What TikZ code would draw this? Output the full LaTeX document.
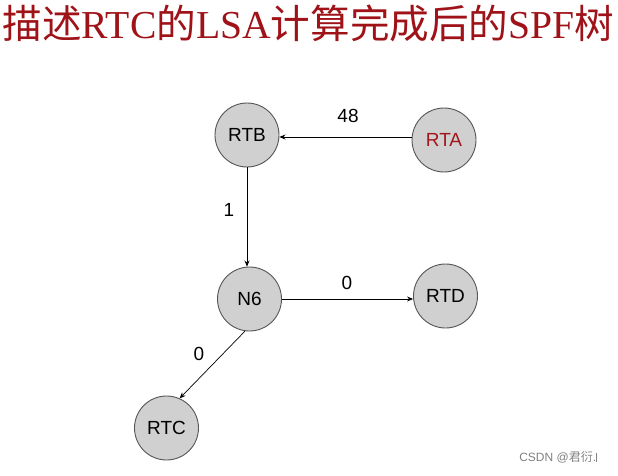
\documentclass[tikz,border=0pt]{standalone}
\usepackage{fontspec}
\setmainfont{Liberation Serif}
\newfontfamily\cjk{Noto Sans CJK SC}
\newfontfamily\arialf{Liberation Sans}
\usetikzlibrary{arrows.meta}
\definecolor{titlered}{HTML}{9E1218}
\definecolor{nodegray}{HTML}{D0D0D0}
\definecolor{rimgray}{HTML}{555555}
\definecolor{rtared}{HTML}{A3161C}
\tikzset{
  router/.style={circle, draw=rimgray, line width=0.9pt, fill=nodegray, minimum size=64pt, inner sep=0pt, font=\arialf\fontsize{19}{19}\selectfont},
  link/.style={draw=black, line width=0.7pt, -{Stealth[length=6pt,width=5pt]}},
  cost/.style={font=\arialf\fontsize{19}{19}\selectfont, inner sep=0pt},
}
\begin{document}
\begin{tikzpicture}[x=1pt,y=-1pt]
\useasboundingbox (0,0) rectangle (618,476);
\node[titlered, inner sep=0pt] (title) at (308.5,23) {\fontsize{39.6}{39.6}\selectfont{\cjk 描述}RTC{\cjk 的}LSA{\cjk 计算完成后的}SPF{\cjk 树}};
\node[router] (rtb) at (247,135) {RTB};
\node[router, text=rtared] (rta) at (444,140) {RTA};
\node[router] (n6) at (249.5,299) {N6};
\node[router] (rtd) at (445.5,296) {RTD};
\node[router] (rtc) at (166.5,428) {RTC};
\draw[link] (rta.west |- 0,137) -- (rtb.east |- 0,137);
\node[cost] (l48) at (348,116) {48};
\draw[link] (rtb) -- (rtb |- n6.north);
\node[cost] (l1) at (229,210) {1};
\draw[link] (n6.east |- 0,299) -- (rtd.west |- 0,299);
\node[cost] (l0a) at (347,283) {0};
\draw[link] (n6.-98) -- (rtc.66);
\node[cost] (l0b) at (199,354) {0};
\node[text=gray, inner sep=0pt, font=\arialf\fontsize{12}{12}\selectfont] (wm) at (558,457) {CSDN @{\cjk 君衍}.\rule[-0.5pt]{0.6pt}{9pt}};
\end{tikzpicture}
\end{document}
